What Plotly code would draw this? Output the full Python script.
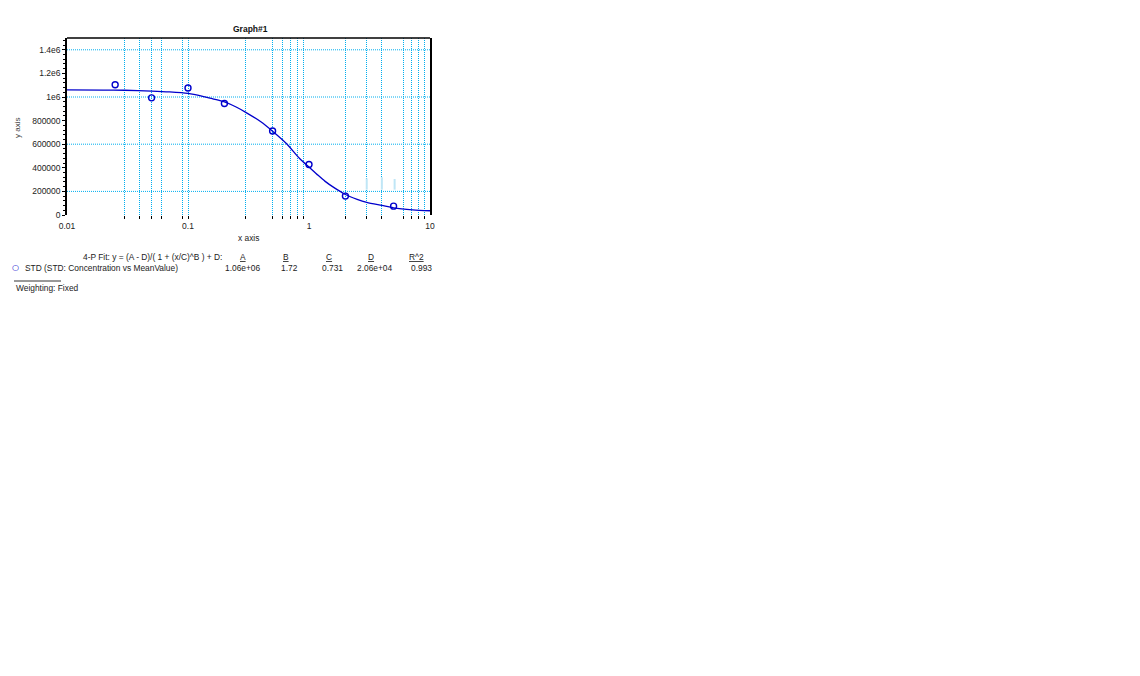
import plotly.graph_objects as go

# standards (concentration vs mean value)
std_x = [0.025, 0.05, 0.1, 0.2, 0.5, 1, 2, 5]
std_y = [1.104e6, 0.993e6, 1.076e6, 0.945e6, 0.712e6, 0.428e6, 0.160e6, 0.075e6]

# fitted 4-P curve
fit_x = [0.01, 0.02, 0.03, 0.05, 0.07, 0.1, 0.13, 0.16, 0.2, 0.25, 0.3, 0.4, 0.5,
         0.65, 0.84, 1.0, 1.19, 1.36, 1.6, 2, 2.5, 3, 4, 5, 7.2, 10]
fit_y = [1.060e6, 1.059e6, 1.057e6, 1.050e6, 1.043e6, 1.030e6, 1.008e6, 0.985e6,
         0.958e6, 0.915e6, 0.870e6, 0.790e6, 0.710e6, 0.606e6, 0.477e6, 0.407e6,
         0.336e6, 0.285e6, 0.234e6, 0.174e6, 0.133e6, 0.107e6, 0.081e6, 0.061e6,
         0.044e6, 0.036e6]

# faint light blue bars near the tail
faint_x = [3, 4, 5.1]
faint_lo = [215000, 215000, 215000]
faint_hi = [310000, 320000, 305000]

x_grid = [0.03, 0.04, 0.05, 0.06, 0.09, 0.1, 0.3, 0.5, 0.6, 0.7, 0.8, 0.9, 2, 3, 4, 6, 7, 8, 9]
x_ticks = [0.01, 0.1, 1, 10]
x_ticktext = ['0.01', '0.1', '1', '10']
y_ticks = [0, 200000, 400000, 600000, 800000, 1000000, 1200000, 1400000]
y_ticktext = ['0', '200000', '400000', '600000', '800000', '1e6', '1.2e6', '1.4e6']
y_grid = [200000, 600000, 1000000, 1400000]

params = ['A', 'B', 'C', 'D', 'R^2']
param_vals = ['1.06e+06', '1.72', '0.731', '2.06e+04', '0.993']

FONT = 'Liberation Sans'
GRID = '#00AEEF'
BLUE = '#0000CC'
DOTS = '1px,1px'

# plot area in screen pixels (page has an 8px body margin)
L, R, T, B = 67, 430, 38, 215
OFF = 8


def px(x):
    return (x - L) / (R - L)


def py(y):
    return (B - y) / (B - T)


fig = go.Figure()

mid = [(a + b) / 2 for a, b in zip(faint_lo, faint_hi)]
fig.add_trace(go.Scatter(
    x=faint_x, y=mid, mode='markers', marker=dict(opacity=0),
    error_y=dict(type='data', symmetric=False,
                 array=[h - m for h, m in zip(faint_hi, mid)],
                 arrayminus=[m - l for m, l in zip(mid, faint_lo)],
                 width=0, color='#BFE6F6', thickness=2),
    hoverinfo='skip', showlegend=False))

fig.add_trace(go.Scatter(
    x=fit_x, y=fit_y, mode='lines',
    line=dict(color=BLUE, width=1.3, shape='spline', smoothing=0.8),
    showlegend=False))

fig.add_trace(go.Scatter(
    x=std_x, y=std_y, mode='markers',
    marker=dict(symbol='circle-open', size=6, color=BLUE, line=dict(width=1.4, color=BLUE)),
    showlegend=False))

shapes = []
for g in y_grid:
    shapes.append(dict(type='line', xref='paper', yref='y', x0=0, x1=1, y0=g, y1=g,
                       line=dict(color=GRID, width=1, dash=DOTS), layer='below'))
shapes.append(dict(type='line', xref='paper', yref='paper', x0=0, x1=1, y0=1, y1=1,
                   line=dict(color='black', width=1.5)))
shapes.append(dict(type='line', xref='paper', yref='paper', x0=px(14), x1=px(61),
                   y0=py(281), y1=py(281), line=dict(color='#333', width=1)))

small = dict(family=FONT, size=8.5, color='#222')
legend_font = dict(family=FONT, size=8.4, color='#222')


def note(text, x, y, xanchor='center', **kw):
    return dict(text=text, x=px(x), y=py(y), xref='paper', yref='paper', showarrow=False,
                xanchor=xanchor, yanchor='middle', font=kw.pop('font', legend_font), **kw)


ann = []
ann.append(note('<b>Graph#1</b>', 250, 29, font=dict(family=FONT, size=8.5, color='#111')))
ann.append(note('y axis', 17, 128, textangle=-90, font=dict(family=FONT, size=8, color='#444')))
ann.append(note('x axis', 248, 238, font=legend_font))
ann.append(note('4-P Fit: y = (A - D)/( 1 + (x/C)^B ) + D:', 224, 257, xanchor='right'))
head_x = [243, 286, 329, 371, 416]
val_x = [243, 289, 332, 375, 421]
for p, v, hx, vx in zip(params, param_vals, head_x, val_x):
    ann.append(note('<u>' + p + '</u>', hx, 257))
    ann.append(note(v, vx, 268))
ann.append(note('○', 15, 267, font=dict(family='DejaVu Sans', size=8, color=BLUE)))
ann.append(note('STD (STD: Concentration vs MeanValue)', 23, 268, xanchor='left'))
ann.append(note('Weighting: Fixed', 14, 288, xanchor='left'))

fig.update_layout(
    width=1140, height=676,
    margin=dict(l=L - OFF, r=1140 - R + OFF, t=T - OFF, b=676 - B + OFF, pad=0,
                autoexpand=False),
    paper_bgcolor='white', plot_bgcolor='white',
    font=small,
    showlegend=False,
    shapes=shapes,
    annotations=ann,
    xaxis=dict(
        type='log', range=[-2, 1],
        tickmode='array', tickvals=x_ticks, ticktext=x_ticktext,
        ticks='', showgrid=False, showline=False, zeroline=False,
        tickfont=small, automargin=False, ticklabelstandoff=4,
        minor=dict(tickmode='array', tickvals=x_grid, ticks='outside', ticklen=3,
                   tickcolor='black', showgrid=True, gridcolor=GRID, griddash=DOTS,
                   gridwidth=1),
    ),
    yaxis=dict(
        range=[0, 1.5e6],
        tickmode='array', tickvals=y_ticks, ticktext=y_ticktext,
        ticks='outside', ticklen=3, tickcolor='black', tickwidth=1,
        showgrid=False, zeroline=False,
        showline=True, linecolor='black', linewidth=1.5, mirror=True,
        tickfont=small, automargin=False,
        minor=dict(dtick=40000, ticks='outside', ticklen=2, tickcolor='black', showgrid=False),
    ),
)

fig.write_html("out.html")
